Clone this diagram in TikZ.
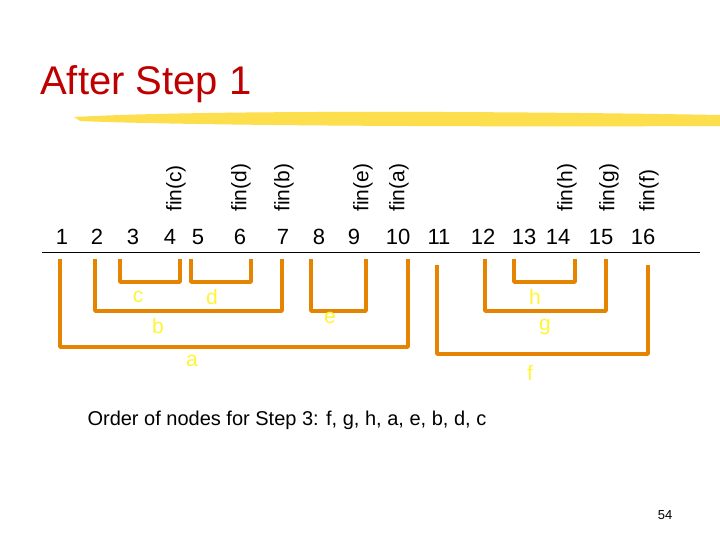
\documentclass[tikz,border=0pt]{standalone}
\usepackage{fontspec}
\setmainfont{Liberation Sans}
\begin{document}
\begin{tikzpicture}[x=1pt,y=-1pt,
  num/.style={font=\fontsize{22}{24}\selectfont,anchor=base},
  fin/.style={font=\fontsize{21}{24}\selectfont,rotate=90,anchor=south west,inner sep=0},
  br/.style={draw=orange!85!yellow!90!black,line width=3.5pt,line join=round},
  lab/.style={text=yellow!80!white,font=\fontsize{21}{24}\selectfont}]
\useasboundingbox (0,0) rectangle (720,540);
\fill[white] (0,0) rectangle (720,540);
% brush stroke
\fill[yellow!70!orange!70!white] (74,117) .. controls (200,110) and (500,111) .. (720,115) -- (720,126) .. controls (500,127) and (200,126) .. (80,121) -- cycle;
\node[anchor=base west,text=red!75!black,font=\fontsize{40}{42}\selectfont,inner sep=0] (title) at (40,95) {After Step 1};
% numbers
\foreach \n/\x in {1/62,2/97,3/133,4/170,5/198,6/240,7/283,8/319,9/354,10/398,11/439,12/483,13/524,14/558,15/601,16/643}
  \node[num] (n\n) at (\x,244) {\n};
\draw[line width=0.8pt] (42,252) -- (700,252);
% fin labels
\foreach \t/\x in {c/186,d/251,b/294,e/373,a/409,h/577,g/619,f/659}
  \node[fin] (fin\t) at (\x,212) {fin(\t)};
% brackets
\draw[br] (120,259) |- (180,282) -- (180,259);
\draw[br] (191,259) |- (251,282) -- (251,259);
\draw[br] (95,259) |- (282,311) -- (282,259);
\draw[br] (311,259) |- (366,311) -- (366,259);
\draw[br] (60,259) |- (408,347) -- (408,259);
\draw[br] (514,259) |- (575,282) -- (575,259);
\draw[br] (485,259) |- (606,311) -- (606,259);
\draw[br] (437,265) |- (648,354) -- (648,265);
\node[lab] (lc) at (138,297) {c};
\node[lab] (ld) at (212,297) {d};
\node[lab] (lb) at (158,326) {b};
\node[lab] (le) at (330,318) {e};
\node[lab] (la) at (192,361) {a};
\node[lab] (lh) at (535,297) {h};
\node[lab] (lg) at (545,327) {g};
\node[lab] (lf) at (530,373) {f};
\node[anchor=base west,font=\fontsize{20}{24}\selectfont] (order) at (84,425) {Order of nodes for Step 3: f, g, h, a, e, b, d, c};
\node[font=\fontsize{13}{15}\selectfont] (pg) at (665,515) {54};
\end{tikzpicture}
\end{document}
